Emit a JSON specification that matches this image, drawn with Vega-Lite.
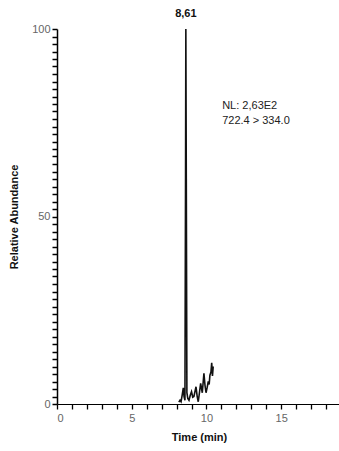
{
  "$schema": "https://vega.github.io/schema/vega-lite/v6.json",
  "width": 284,
  "height": 375,
  "autosize": {"type": "none"},
  "padding": {"left": 57, "top": 29, "right": 0, "bottom": 47},
  "background": "white",
  "config": {
    "view": {"stroke": null},
    "font": "Liberation Sans",
    "axis": {"grid": false, "ticks": true, "domainColor": "#000", "tickColor": "#000", "labelColor": "#666", "labelFont": "Liberation Sans", "labelFontSize": 11, "titleFont": "Liberation Sans", "titleFontWeight": "bold", "titleFontSize": 11, "titleColor": "#111"}
  },
  "datasets": {
    "trace": [
      {"t": 8.15, "v": 0.5},
      {"t": 8.23, "v": 1},
      {"t": 8.3, "v": 0.6},
      {"t": 8.38, "v": 2.5},
      {"t": 8.45, "v": 4.3},
      {"t": 8.5, "v": 2.0},
      {"t": 8.56, "v": 1},
      {"t": 8.6, "v": 60},
      {"t": 8.62, "v": 100},
      {"t": 8.65, "v": 60},
      {"t": 8.69, "v": 3},
      {"t": 8.75, "v": 1.5},
      {"t": 8.83, "v": 1},
      {"t": 8.92, "v": 2.4},
      {"t": 9.0, "v": 3.3},
      {"t": 9.08, "v": 1.8},
      {"t": 9.16, "v": 2},
      {"t": 9.3, "v": 4.6},
      {"t": 9.38, "v": 2},
      {"t": 9.45, "v": 0.6},
      {"t": 9.53, "v": 3},
      {"t": 9.61, "v": 5.5},
      {"t": 9.72, "v": 3},
      {"t": 9.83, "v": 8.2},
      {"t": 9.9, "v": 5},
      {"t": 9.97, "v": 3},
      {"t": 10.05, "v": 4.5},
      {"t": 10.12, "v": 6},
      {"t": 10.18, "v": 5.2},
      {"t": 10.23, "v": 7.7},
      {"t": 10.3, "v": 8.5},
      {"t": 10.35, "v": 11},
      {"t": 10.4, "v": 7.5},
      {"t": 10.45, "v": 10}
    ],
    "peak": [{"t": 8.62, "v": 100, "label": "8,61"}],
    "info": [
      {"t": 11.05, "v": 79.5, "label": "NL: 2,63E2"},
      {"t": 11.05, "v": 75.5, "label": "722.4 > 334.0"}
    ]
  },
  "encoding": {
    "x": {"field": "t", "type": "quantitative", "scale": {"domain": [0, 19], "nice": false, "zero": false},
      "axis": {"title": "Time (min)", "format": "d", "values": [0,0.5,1,1.5,2,2.5,3,3.5,4,4.5,5,5.5,6,6.5,7,7.5,8,8.5,9,9.5,10,10.5,11,11.5,12,12.5,13,13.5,14,14.5,15,15.5,16,16.5,17,17.5,18,18.5,19],
        "labelExpr": "datum.value % 5 == 0 ? format(datum.value, 'd') : ''", "labelOverlap": false, "tickSize": 5, "labelPadding": 3, "titlePadding": 8, "domainWidth": 1.2, "tickWidth": 1.3, "tickColor": "#000"}},
    "y": {"field": "v", "type": "quantitative", "scale": {"domain": [0, 100], "nice": false},
      "axis": {"title": "Relative Abundance", "format": "d", "values": [0,2,4,6,8,10,12,14,16,18,20,22,24,26,28,30,32,34,36,38,40,42,44,46,48,50,52,54,56,58,60,62,64,66,68,70,72,74,76,78,80,82,84,86,88,90,92,94,96,98,100],
        "labelExpr": "datum.value % 50 == 0 ? format(datum.value, 'd') : ''", "labelOverlap": false, "tickSize": 5, "labelPadding": 2, "titlePadding": 12, "domainWidth": 1.5, "tickWidth": 1.5, "tickColor": "#000"}}
  },
  "layer": [
    {
      "data": {"name": "trace"},
      "mark": {"type": "line", "color": "#111", "strokeWidth": 1.6, "clip": true}
    },
    {
      "data": {"name": "peak"},
      "mark": {"type": "text", "fontWeight": "bold", "fontSize": 11, "color": "#111", "dy": -15, "align": "center"},
      "encoding": {"text": {"field": "label"}}
    },
    {
      "data": {"name": "info"},
      "mark": {"type": "text", "fontSize": 11, "color": "#222", "align": "left", "baseline": "middle"},
      "encoding": {"text": {"field": "label"}}
    }
  ]
}
